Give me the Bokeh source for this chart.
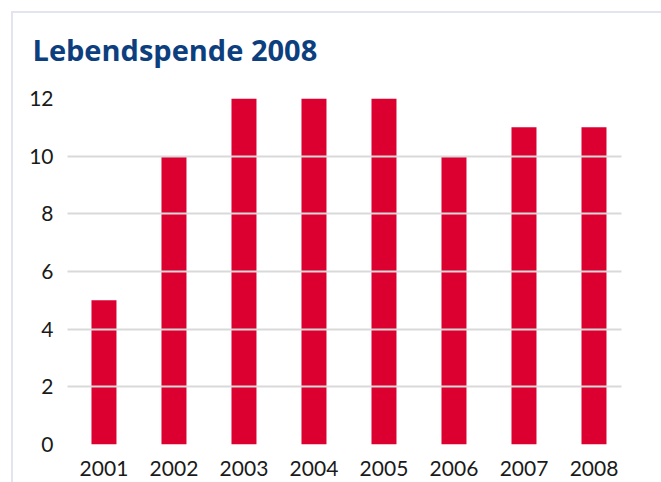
from bokeh.plotting import figure
from bokeh.models import Range1d, FixedTicker, InlineStyleSheet
from bokeh.embed import file_html
from bokeh.resources import INLINE

years = [2001, 2002, 2003, 2004, 2005, 2006, 2007, 2008]
values = [5, 10, 12, 12, 12, 10, 11, 11]
y_ticks = [0, 2, 4, 6, 8, 10, 12]
title_text = "Lebendspende 2008"

border_css = InlineStyleSheet(css="""
:host::after {
  content: '';
  position: absolute;
  left: 11px; top: 11px; right: 0; bottom: 0;
  border-top: 2.5px solid #e4e4f0;
  border-left: 2.5px solid #e4e4f0;
  pointer-events: none;
}
""")

p = figure(width=661, height=482, output_backend="svg", toolbar_location=None,
           x_range=Range1d(2000.479, 2008.393), y_range=Range1d(0, 12),
           min_border_left=67, min_border_right=40, min_border_top=98, min_border_bottom=38,
           stylesheets=[border_css])

p.vbar(x=years, top=values, width=0.357, bottom=0, color="#dc0030", line_color=None)

p.title.text = title_text
p.title.text_font = "Open Sans"
p.title.text_font_size = "29px"
p.title.text_font_style = "bold"
p.title.text_color = "#0d3f7f"
p.title.vertical_align = "top"
p.title.offset = -35
p.title.standoff = 56

p.outline_line_color = None
p.xgrid.grid_line_color = None
p.ygrid.grid_line_color = "#d9d9d9"
p.ygrid.grid_line_width = 2
p.ygrid.level = "overlay"

p.xaxis.ticker = FixedTicker(ticks=years)
p.yaxis.ticker = FixedTicker(ticks=y_ticks)
for ax in (p.xaxis, p.yaxis):
    ax.axis_line_color = None
    ax.major_tick_line_color = None
    ax.minor_tick_line_color = None
    ax.major_label_text_font = "Lato"
    ax.major_label_text_font_size = "21px"
    ax.major_label_text_color = "#1a1a1a"
p.xaxis.major_label_standoff = 10
p.yaxis.major_label_standoff = 8

open("out.html", "w").write(file_html(p, INLINE))
